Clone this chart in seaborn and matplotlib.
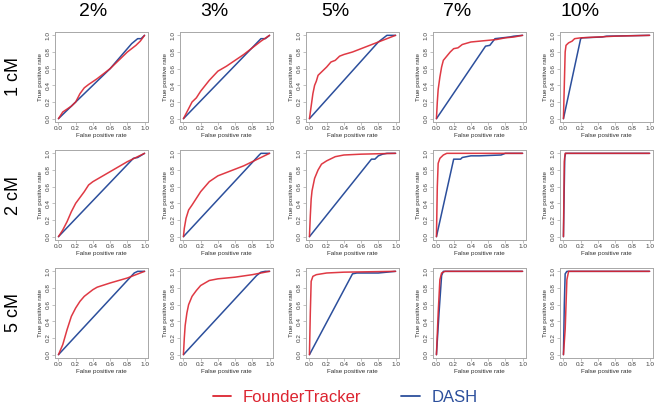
import pandas as pd
import matplotlib
matplotlib.use("Agg")
import matplotlib.pyplot as plt
from matplotlib.lines import Line2D
import seaborn as sns

sns.set_theme(style="white")
plt.rcParams['font.family'] = ['Liberation Sans', 'DejaVu Sans']

# column / row headers
densities = ["2%", "3%", "5%", "7%", "10%"]
lengths = ["1 cM", "2 cM", "5 cM"]
methods = ["DASH", "FounderTracker"]

# ROC curves, (fpr, tpr) pairs
ft_1cm_2 = [(0, 0), (0.05, 0.08), (0.15, 0.15), (0.2, 0.2), (0.25, 0.3), (0.3, 0.37), (0.35, 0.41),
            (0.45, 0.48), (0.6, 0.6), (0.7, 0.7), (0.8, 0.8), (0.9, 0.88), (0.95, 0.93), (1, 1)]
dash_1cm_2 = [(0, 0), (0.2, 0.2), (0.6, 0.6), (0.85, 0.9), (0.92, 0.96), (0.96, 0.96), (1, 1)]
ft_1cm_3 = [(0, 0), (0.05, 0.1), (0.1, 0.2), (0.15, 0.25), (0.2, 0.33), (0.3, 0.46), (0.4, 0.57),
            (0.5, 0.63), (0.6, 0.7), (0.7, 0.77), (0.8, 0.85), (0.9, 0.93), (1, 1)]
dash_1cm_3 = [(0, 0), (0.9, 0.96), (0.95, 0.96), (1, 1)]
ft_1cm_5 = [(0, 0), (0.02, 0.15), (0.04, 0.3), (0.06, 0.4), (0.08, 0.45), (0.1, 0.52), (0.15, 0.57),
            (0.2, 0.62), (0.25, 0.68), (0.3, 0.7), (0.35, 0.75), (0.4, 0.77), (0.5, 0.8), (0.6, 0.84),
            (0.7, 0.88), (0.8, 0.92), (0.9, 0.96), (1, 1)]
dash_1cm_5 = [(0, 0), (0.8, 0.92), (0.9, 1), (1, 1)]
ft_1cm_7 = [(0, 0), (0.01, 0.2), (0.02, 0.35), (0.04, 0.5), (0.06, 0.62), (0.08, 0.7), (0.12, 0.75),
            (0.16, 0.8), (0.2, 0.84), (0.25, 0.85), (0.3, 0.89), (0.4, 0.92), (0.5, 0.93), (0.6, 0.94),
            (0.7, 0.95), (0.8, 0.97), (0.9, 0.98), (1, 1)]
dash_1cm_7 = [(0, 0), (0.57, 0.87), (0.62, 0.88), (0.68, 0.96), (0.85, 0.98), (0.9, 0.99), (1, 1)]
ft_1cm_10 = [(0, 0), (0.01, 0.4), (0.02, 0.8), (0.03, 0.88), (0.06, 0.91), (0.1, 0.93), (0.13, 0.96),
             (0.2, 0.97), (0.4, 0.98), (0.6, 0.99), (1, 1)]
dash_1cm_10 = [(0, 0), (0.2, 0.96), (0.22, 0.97), (0.45, 0.98), (0.5, 0.99), (1, 1)]

ft_2cm_2 = [(0, 0), (0.05, 0.08), (0.1, 0.18), (0.15, 0.3), (0.2, 0.4), (0.3, 0.54), (0.35, 0.62),
            (0.4, 0.66), (0.5, 0.72), (0.6, 0.78), (0.7, 0.84), (0.8, 0.9), (0.9, 0.95), (1, 1)]
dash_2cm_2 = [(0, 0), (0.87, 0.94), (0.92, 0.95), (1, 1)]
ft_2cm_3 = [(0, 0), (0.01, 0.1), (0.03, 0.22), (0.06, 0.32), (0.1, 0.38), (0.15, 0.46), (0.2, 0.54),
            (0.3, 0.66), (0.4, 0.73), (0.5, 0.77), (0.6, 0.81), (0.7, 0.85), (0.8, 0.9), (0.9, 0.95), (1, 1)]
dash_2cm_3 = [(0, 0), (0.88, 0.98), (0.9, 1), (1, 1)]
ft_2cm_5 = [(0, 0), (0.01, 0.25), (0.02, 0.45), (0.03, 0.55), (0.06, 0.7), (0.1, 0.8), (0.14, 0.87),
            (0.2, 0.91), (0.3, 0.96), (0.4, 0.98), (0.6, 0.99), (1, 1)]
dash_2cm_5 = [(0, 0), (0.72, 0.93), (0.76, 0.93), (0.8, 0.97), (0.85, 0.99), (0.9, 1), (1, 1)]
ft_2cm_7 = [(0, 0), (0.01, 0.6), (0.02, 0.88), (0.04, 0.94), (0.08, 0.98), (0.12, 1), (1, 1)]
dash_2cm_7 = [(0, 0), (0.2, 0.93), (0.28, 0.93), (0.3, 0.95), (0.4, 0.97), (0.5, 0.97), (0.75, 0.98),
              (0.8, 1), (1, 1)]
ft_2cm_10 = [(0, 0), (0.01, 0.9), (0.02, 1), (1, 1)]
dash_2cm_10 = [(0, 0), (0.015, 0.95), (0.025, 1), (1, 1)]

ft_5cm_2 = [(0, 0), (0.05, 0.12), (0.1, 0.3), (0.15, 0.46), (0.2, 0.56), (0.25, 0.64), (0.3, 0.7),
            (0.4, 0.78), (0.45, 0.81), (0.6, 0.86), (0.8, 0.92), (0.9, 0.96), (1, 1)]
dash_5cm_2 = [(0, 0), (0.88, 0.98), (0.92, 1), (1, 1)]
ft_5cm_3 = [(0, 0), (0.01, 0.2), (0.02, 0.35), (0.04, 0.5), (0.06, 0.6), (0.1, 0.7), (0.15, 0.77),
            (0.2, 0.83), (0.3, 0.89), (0.4, 0.91), (0.6, 0.93), (0.8, 0.96), (0.9, 0.98), (1, 1)]
dash_5cm_3 = [(0, 0), (0.85, 0.95), (0.9, 0.99), (0.95, 1), (1, 1)]
ft_5cm_5 = [(0, 0), (0.01, 0.5), (0.02, 0.88), (0.04, 0.94), (0.08, 0.96), (0.2, 0.98), (0.4, 0.99), (1, 1)]
dash_5cm_5 = [(0, 0), (0.5, 0.97), (0.55, 0.98), (0.8, 0.98), (1, 1)]
ft_5cm_7 = [(0, 0), (0.02, 0.5), (0.04, 0.9), (0.06, 0.98), (0.1, 1), (1, 1)]
dash_5cm_7 = [(0, 0), (0.03, 0.5), (0.06, 0.95), (0.08, 1), (1, 1)]
ft_5cm_10 = [(0, 0), (0.02, 0.3), (0.04, 0.9), (0.06, 1), (1, 1)]
dash_5cm_10 = [(0, 0), (0.01, 0.6), (0.02, 0.97), (0.04, 1), (1, 1)]

curves = {
    ("1 cM", "2%"): (dash_1cm_2, ft_1cm_2), ("1 cM", "3%"): (dash_1cm_3, ft_1cm_3),
    ("1 cM", "5%"): (dash_1cm_5, ft_1cm_5), ("1 cM", "7%"): (dash_1cm_7, ft_1cm_7),
    ("1 cM", "10%"): (dash_1cm_10, ft_1cm_10),
    ("2 cM", "2%"): (dash_2cm_2, ft_2cm_2), ("2 cM", "3%"): (dash_2cm_3, ft_2cm_3),
    ("2 cM", "5%"): (dash_2cm_5, ft_2cm_5), ("2 cM", "7%"): (dash_2cm_7, ft_2cm_7),
    ("2 cM", "10%"): (dash_2cm_10, ft_2cm_10),
    ("5 cM", "2%"): (dash_5cm_2, ft_5cm_2), ("5 cM", "3%"): (dash_5cm_3, ft_5cm_3),
    ("5 cM", "5%"): (dash_5cm_5, ft_5cm_5), ("5 cM", "7%"): (dash_5cm_7, ft_5cm_7),
    ("5 cM", "10%"): (dash_5cm_10, ft_5cm_10),
}

rows = []
for (length, dens), pair in curves.items():
    for method, pts in zip(methods, pair):
        for i, (x, y) in enumerate(pts):
            rows.append(dict(length=length, density=dens, method=method, order=i, fpr=x, tpr=y))
df = pd.DataFrame(rows)

colors = {"FounderTracker": "#dc2430", "DASH": "#2c4f9c"}
grey = "#a8a8a8"

W, H = 659, 408
fig = plt.figure(figsize=(W / 100, H / 100), dpi=100)

col_left = [55, 180, 306, 433, 560]
row_top = [32, 150, 268]
bw, bh = 93, 90
title_x = [93, 214, 335, 457, 580]

for r, length in enumerate(lengths):
    for c, dens in enumerate(densities):
        ax = fig.add_axes([col_left[c] / W, 1 - (row_top[r] + bh) / H, bw / W, bh / H])
        sub = df[(df.length == length) & (df.density == dens)]
        sns.lineplot(data=sub[sub.method == "DASH"], x="fpr", y="tpr", color=colors["DASH"],
                     sort=False, estimator=None, lw=1.1, ax=ax)
        sns.lineplot(data=sub[sub.method == "FounderTracker"], x="fpr", y="tpr",
                     color=colors["FounderTracker"], alpha=0.9,
                     sort=False, estimator=None, lw=1.1, ax=ax)
        ax.set_xlim(-0.04, 1.04)
        ax.set_ylim(-0.04, 1.04)
        ticks = [0, 0.2, 0.4, 0.6, 0.8, 1.0]
        ax.set_xticks(ticks)
        ax.set_yticks(ticks)
        ax.set_xticklabels([f"{t:.1f}" for t in ticks])
        ax.set_yticklabels([f"{t:.1f}" for t in ticks], rotation=90, va="center")
        ax.tick_params(length=2, width=0.5, pad=1.2, labelsize=4.6, color=grey,
                       labelcolor="#404040", bottom=True, left=True)
        ax.set_xlabel("False positive rate", fontsize=4.5, labelpad=1, color="#303030")
        ax.set_ylabel("True positive rate", fontsize=4.5, labelpad=1.5, color="#303030")
        for s in ax.spines.values():
            s.set_color(grey)
            s.set_linewidth(0.7)

for c, dens in enumerate(densities):
    fig.text(title_x[c] / W, 1 - 12 / H, dens, ha="center", va="center", fontsize=14, color="black")
for r, length in enumerate(lengths):
    fig.text(13 / W, 1 - (row_top[r] + bh / 2) / H, length, ha="center", va="center",
             rotation=90, fontsize=13, color="black")

handles = [Line2D([], [], color=colors["FounderTracker"], lw=1.3),
           Line2D([], [], color=colors["DASH"], lw=1.3)]
fig.legend(handles, ["FounderTracker", "DASH"], loc="center", ncol=2,
           bbox_to_anchor=(345 / W, 1 - 397 / H), frameon=False, fontsize=12,
           labelcolor="linecolor", handlelength=1.1, handletextpad=0.7, columnspacing=2.4)

fig.savefig("out.png", dpi=100)
